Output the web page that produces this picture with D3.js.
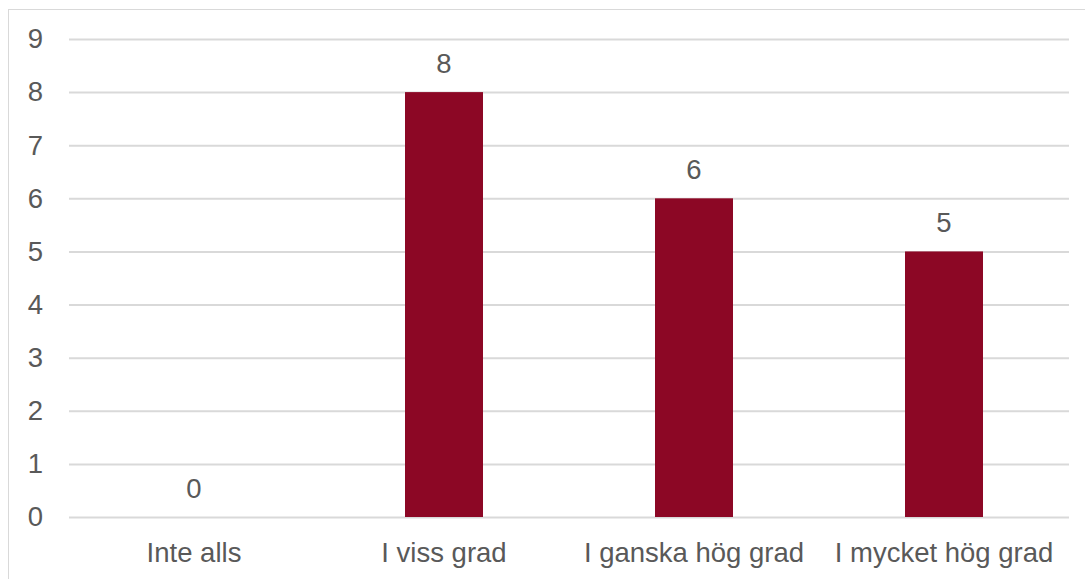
<!DOCTYPE html>
<html>
<head>
<meta charset="utf-8">
<script src="https://cdn.jsdelivr.net/npm/d3@7"></script>
<style>
  html, body { margin: 0; padding: 0; background: #fff; }
  svg { display: block; }
  text { font-family: "Liberation Sans", Arial, sans-serif; fill: #595959; }
</style>
</head>
<body>
<svg id="chart" width="1085" height="579"></svg>
<script>
const categories = ["Inte alls", "I viss grad", "I ganska hög grad", "I mycket hög grad"];
const values = [0, 8, 6, 5];
const yTicks = [0, 1, 2, 3, 4, 5, 6, 7, 8, 9];

const svg = d3.select("#chart");
const W = 1085, H = 579;
const m = { left: 69, right: 16, top: 39, bottom: 62 };
const FS = 27.5;

// outer chart frame
svg.append("rect")
  .attr("x", 8.5).attr("y", 9.5)
  .attr("width", W + 10).attr("height", H + 10)
  .attr("fill", "none").attr("stroke", "#d9d9d9").attr("stroke-width", 1);

const x = d3.scaleBand()
  .domain(categories)
  .range([m.left, W - m.right])
  .paddingInner(0.688)
  .paddingOuter(0.344);

const y = d3.scaleLinear()
  .domain([0, 9])
  .range([H - m.bottom, m.top]);

// horizontal gridlines
const yAxis = d3.axisLeft(y).tickValues(yTicks).tickSize(-(W - m.right - m.left)).tickPadding(26);
const gy = svg.append("g").attr("transform", `translate(${m.left},0)`).call(yAxis);
gy.select(".domain").remove();
gy.selectAll(".tick line").attr("stroke", "#d9d9d9").attr("stroke-width", 2);
gy.selectAll(".tick text").attr("font-size", FS).attr("fill", "#595959")
  .style("font-family", "Liberation Sans, Arial, sans-serif");

// bars
svg.append("g").selectAll("rect").data(values).join("rect")
  .attr("x", (d, i) => x(categories[i]))
  .attr("y", d => y(d))
  .attr("width", x.bandwidth())
  .attr("height", d => y(0) - y(d))
  .attr("fill", "#8c0725");

// value labels
svg.append("g").selectAll("text").data(values).join("text")
  .attr("x", (d, i) => x(categories[i]) + x.bandwidth() / 2)
  .attr("y", d => y(d) - 19)
  .attr("text-anchor", "middle")
  .attr("font-size", FS)
  .text(d => d);

// category axis
const xAxis = d3.axisBottom(x).tickSize(0).tickPadding(25);
const gx = svg.append("g").attr("transform", `translate(0,${y(0)})`).call(xAxis);
gx.select(".domain").remove();
gx.selectAll(".tick text").attr("font-size", FS).attr("fill", "#595959")
  .style("font-family", "Liberation Sans, Arial, sans-serif");
</script>
</body>
</html>
